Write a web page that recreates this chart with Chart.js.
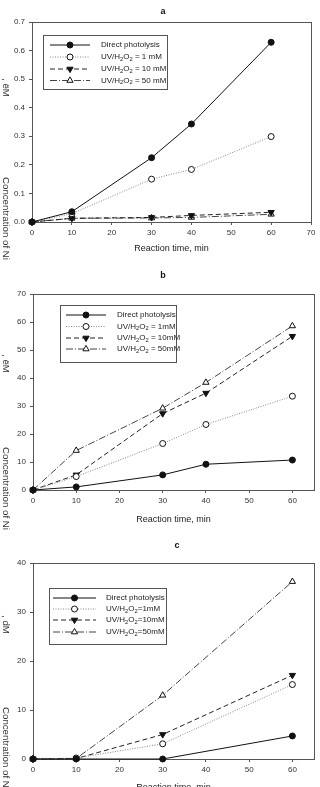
<!DOCTYPE html>
<html>
<head>
<meta charset="utf-8">
<script src="https://cdn.jsdelivr.net/npm/chart.js@4"></script>
<style>
  html,body{margin:0;padding:0;background:#fff;}
  body{width:320px;height:787px;position:relative;overflow:hidden;}
  canvas{position:absolute;left:0;}
</style>
</head>
<body>
<canvas id="chartA" width="320" height="262" style="top:0px"></canvas>
<canvas id="chartB" width="320" height="272" style="top:258px"></canvas>
<canvas id="chartC" width="320" height="275" style="top:526px"></canvas>
<script>
// ---- data ----
const timeAB = [0, 10, 30, 40, 60];
const timeC = [0, 10, 30, 60];

// panel a (Ni, 0-0.7)
const aDirect = [0, 0.036, 0.225, 0.343, 0.629];
const a1mM    = [0, 0.029, 0.150, 0.184, 0.299];
const a10mM   = [0, 0.013, 0.016, 0.023, 0.034];
const a50mM   = [0, 0.013, 0.014, 0.016, 0.027];

// panel b
const bDirect = [0, 1.1, 5.4, 9.2, 10.7];
const b1mM    = [0, 4.8, 16.6, 23.4, 33.5];
const b10mM   = [0, 5.4, 27.3, 34.6, 54.9];
const b50mM   = [0, 14.1, 29.2, 38.4, 58.6];

// panel c
const cDirect = [0, 0, 0, 4.7];
const c1mM    = [0, 0.2, 3.1, 15.2];
const c10mM   = [0, 0.1, 5.0, 17.1];
const c50mM   = [0, 0.1, 13.0, 36.2];

const aLabels = ['Direct photolysis', 'UV/H_2O_2 = 1 mM', 'UV/H_2O_2 = 10 mM', 'UV/H_2O_2 = 50 mM'];
const bLabels = ['Direct photolysis', 'UV/H_2O_2 = 1mM', 'UV/H_2O_2 = 10mM', 'UV/H_2O_2 = 50mM'];
const cLabels = ['Direct photolysis', 'UV/H_2O_2=1mM', 'UV/H_2O_2=10mM', 'UV/H_2O_2=50mM'];

const xTicksA = [0, 10, 20, 30, 40, 50, 60, 70];
const xTicksBC = [0, 10, 20, 30, 40, 50, 60];
const yTicksA = [0, 0.1, 0.2, 0.3, 0.4, 0.5, 0.6, 0.7];
const yTicksB = [0, 10, 20, 30, 40, 50, 60, 70];
const yTicksC = [0, 10, 20, 30, 40];

// line / marker look for the 4 series (same order in each panel)
const looks = [
  {color:'#111', dash:[], point:'circle', fill:'#111', rot:0, r:3},
  {color:'#888', dash:[1,1.5], point:'circle', fill:'#fff', rot:0, r:3},
  {color:'#222', dash:[5,3], point:'triangle', fill:'#111', rot:180, r:3.6},
  {color:'#444', dash:[7,2,1,2], point:'triangle', fill:'#fff', rot:0, r:3.6}
];

const FONT = '"Liberation Sans", Arial, sans-serif';

function drawMarker(ctx, lk, x, y){
  ctx.save();
  ctx.setLineDash([]);
  ctx.lineWidth = 1;
  ctx.strokeStyle = '#111';
  ctx.fillStyle = lk.fill;
  ctx.beginPath();
  if(lk.point === 'circle'){
    ctx.arc(x, y, lk.r, 0, Math.PI*2);
  } else {
    for(let k=0;k<3;k++){
      const ang = lk.rot*Math.PI/180 + k*2*Math.PI/3;
      const px = x + Math.sin(ang)*lk.r, py = y - Math.cos(ang)*lk.r;
      if(k===0) ctx.moveTo(px, py); else ctx.lineTo(px, py);
    }
    ctx.closePath();
  }
  ctx.fill();
  ctx.stroke();
  ctx.restore();
}

// text with "_x" subscripts
function subText(ctx, text, x, y, size){
  const parts = text.split(/(_\d)/);
  let cx = x;
  parts.forEach(p=>{
    if(!p) return;
    if(p[0] === '_'){
      ctx.font = (size*0.72) + 'px ' + FONT;
      ctx.fillText(p.slice(1), cx, y + size*0.3);
      cx += ctx.measureText(p.slice(1)).width;
    } else {
      ctx.font = size + 'px ' + FONT;
      ctx.fillText(p, cx, y);
      cx += ctx.measureText(p).width;
    }
  });
}

const decor = {
  id: 'decor',
  beforeDatasetsDraw(chart, args, o){
    const {ctx, chartArea:ca} = chart;
    ctx.save();
    ctx.strokeStyle = '#555';
    ctx.lineWidth = 1;
    ctx.strokeRect(ca.left + 0.5, ca.top + 0.5, ca.right - ca.left, ca.bottom - ca.top);
    ctx.restore();
  },
  afterDraw(chart, args, o){
    const ctx = chart.ctx;
    ctx.save();
    // panel letter
    ctx.fillStyle = '#111';
    ctx.font = 'bold 9px ' + FONT;
    ctx.textAlign = 'center';
    ctx.textBaseline = 'middle';
    ctx.fillText(o.letter, o.letterPos[0], o.letterPos[1]);
    // y title, two separate rotated pieces
    ctx.fillStyle = '#333';
    ctx.font = '9.7px ' + FONT;
    ctx.textAlign = 'left';
    ctx.textBaseline = 'alphabetic';
    o.yTitle.forEach(t=>{
      ctx.save();
      ctx.translate(t.x, t.y);
      ctx.rotate(Math.PI/2);
      ctx.fillText(t.text, 0, 0);
      ctx.restore();
    });
    // legend box
    const b = o.box;
    ctx.fillStyle = '#fff';
    ctx.fillRect(b[0], b[1], b[2], b[3]);
    ctx.strokeStyle = '#555';
    ctx.lineWidth = 1;
    ctx.strokeRect(b[0] + 0.5, b[1] + 0.5, b[2], b[3]);
    chart.data.datasets.forEach((ds, i)=>{
      const lk = looks[i];
      const y = o.rows[i];
      ctx.save();
      ctx.strokeStyle = lk.color;
      ctx.setLineDash(lk.dash);
      ctx.beginPath();
      ctx.moveTo(o.lineX[0], y);
      ctx.lineTo(o.lineX[1], y);
      ctx.stroke();
      ctx.restore();
      drawMarker(ctx, lk, (o.lineX[0] + o.lineX[1]) / 2, y);
      ctx.fillStyle = '#222';
      ctx.textAlign = 'left';
      ctx.textBaseline = 'middle';
      subText(ctx, ds.label, o.textX, y, 8);
    });
    ctx.restore();
  }
};

function makeChart(id, xs, series, labels, xMax, xTicks, yMax, yTicks, yFmt, lay, deco){
  const datasets = series.map((vals, i)=>{
    const lk = looks[i];
    return {
      label: labels[i],
      data: vals.map((v, j)=>({x: xs[j], y: v})),
      borderColor: lk.color,
      borderWidth: 1,
      borderDash: lk.dash,
      pointStyle: lk.point,
      pointRotation: lk.rot,
      pointRadius: lk.r,
      pointBackgroundColor: lk.fill,
      pointBorderColor: '#111',
      pointBorderWidth: 1,
      tension: 0,
      clip: false
    };
  });
  return new Chart(document.getElementById(id), {
    type: 'line',
    data: {datasets},
    plugins: [decor],
    options: {
      responsive: false,
      animation: false,
      events: [],
      layout: {padding: {top: lay.top, right: lay.right, left: 0, bottom: 0}},
      plugins: {legend: {display: false}, tooltip: {enabled: false}, decor: deco},
      scales: {
        x: {
          type: 'linear', min: 0, max: xMax,
          afterBuildTicks: s => { s.ticks = xTicks.map(v=>({value: v})); },
          afterFit: s => { s.height = lay.xh; },
          ticks: {font: {size: 8, family: FONT}, color: '#333', padding: 3, maxRotation: 0},
          grid: {drawOnChartArea: false, tickLength: 3, color: '#555'},
          border: {color: '#555'},
          title: {display: true, text: 'Reaction time, min', color: '#222',
                  font: {size: 9, family: FONT}, padding: {top: 0, bottom: lay.tb}}
        },
        y: {
          min: 0, max: yMax,
          afterBuildTicks: s => { s.ticks = yTicks.map(v=>({value: v})); },
          afterFit: s => { s.width = lay.yw; },
          ticks: {font: {size: 8, family: FONT}, color: '#333', padding: 4, callback: yFmt},
          grid: {drawOnChartArea: false, tickLength: 3, color: '#555'},
          border: {color: '#555'}
        }
      }
    }
  });
}

makeChart('chartA', timeAB, [aDirect, a1mM, a10mM, a50mM], aLabels, 70, xTicksA, 0.7, yTicksA,
  v => v.toFixed(1),
  {top: 22, right: 9, xh: 40, yw: 32, tb: 8},
  {letter: 'a', letterPos: [163, 12],
   yTitle: [{text: ', ëM', x: 3, y: 78}, {text: 'Concentration of Ni', x: 3, y: 177}],
   box: [43, 35, 124, 54], rows: [45, 57, 69, 80.5], lineX: [50, 90], textX: 101});

makeChart('chartB', timeAB, [bDirect, b1mM, b10mM, b50mM], bLabels, 65, xTicksBC, 70, yTicksB,
  v => v,
  {top: 36, right: 6, xh: 40, yw: 33, tb: 5},
  {letter: 'b', letterPos: [163, 18],
   yTitle: [{text: ', ëM', x: 3, y: 96}, {text: 'Concentration of Ni', x: 3, y: 189}],
   box: [60, 47, 116, 57], rows: [57, 68.5, 80, 91], lineX: [66, 106], textX: 117});

makeChart('chartC', timeC, [cDirect, c1mM, c10mM, c50mM], cLabels, 65, xTicksBC, 40, yTicksC,
  v => v,
  {top: 37, right: 6, xh: 42, yw: 33, tb: 8},
  {letter: 'c', letterPos: [177, 20],
   yTitle: [{text: ', dM', x: 3, y: 89}, {text: 'Concentration of Ni', x: 3, y: 181}],
   box: [49, 62, 117, 56], rows: [72, 83, 94, 106], lineX: [53, 96], textX: 106});
</script>
</body>
</html>
